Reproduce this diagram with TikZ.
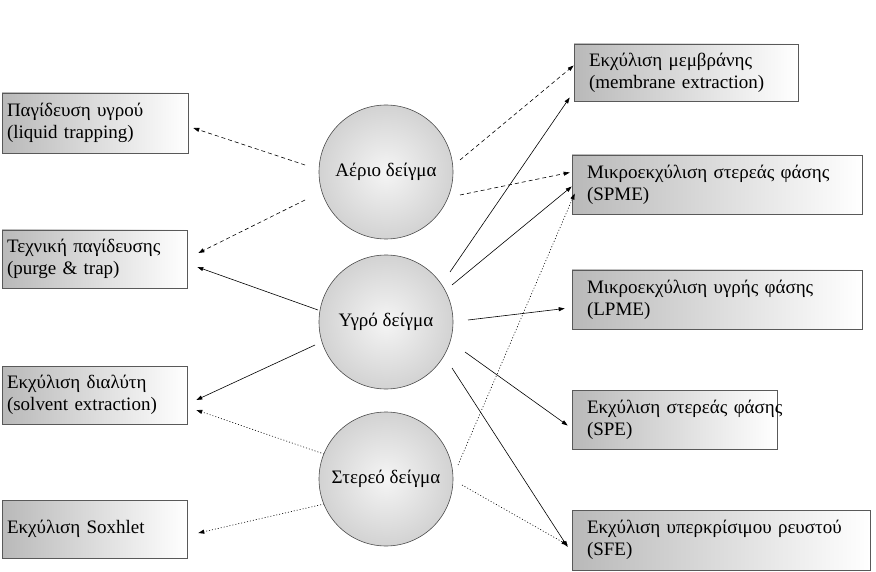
\documentclass[tikz,border=0pt]{standalone}
\usepackage{fontspec}
\setmainfont{Liberation Serif}
\usetikzlibrary{calc,arrows.meta}
\newcommand{\lnA}[1]{\mbox{\hspace*{5pt}#1}}
\newcommand{\lnB}[1]{\mbox{\hspace*{15pt}#1}}
\begin{document}
\begin{tikzpicture}[x=1pt,y=-1pt,
  box/.style={draw=gray!70!black,line width=0.6pt,left color=gray!55,right color=white,align=left,anchor=center,inner xsep=0pt,text width=#1,font=\fontsize{19}{22}\selectfont},
  circ/.style={circle,draw=gray!60!black,line width=0.6pt,minimum size=134pt,inner color=gray!8,outer color=gray!35,font=\fontsize{19}{22}\selectfont},
  con/.style={line width=0.6pt,-{Triangle[length=6pt,width=4pt]}},
  dsh/.style={con,dash pattern=on 4pt off 3pt},
  dot/.style={con,dash pattern=on 1pt off 2pt}]
\useasboundingbox (0,0) rectangle (876,572);
\node[box=186pt,minimum height=60pt] (L1) at (95,123) {\lnA{Παγίδευση υγρού}\\\lnA{(liquid trapping)}};
\node[box=185pt,minimum height=58pt] (L2) at (94.5,259) {\lnA{Τεχνική παγίδευσης}\\\lnA{(purge \& trap)}};
\node[box=185pt,minimum height=58pt] (L3) at (94.5,395) {\lnA{Εκχύλιση διαλύτη}\\\lnA{(solvent extraction)}};
\node[box=185pt,minimum height=58pt] (L4) at (94.5,529) {\lnA{Εκχύλιση Soxhlet}};
\node[box=224pt,minimum height=57pt] (R1) at (686,72.5) {\lnB{Εκχύλιση μεμβράνης}\\\lnB{(membrane extraction)}};
\node[box=290pt,minimum height=59pt] (R2) at (717,184.5) {\lnB{Μικροεκχύλιση στερεάς φάσης}\\\lnB{(SPME)}};
\node[box=290pt,minimum height=59pt] (R3) at (717,299.5) {\lnB{Μικροεκχύλιση υγρής φάσης}\\\lnB{(LPME)}};
\node[box=205pt,minimum height=59pt] (R4) at (674.5,419.5) {\lnB{Εκχύλιση στερεάς φάσης}\\\lnB{(SPE)}};
\node[box=298pt,minimum height=60pt] (R5) at (721,540) {\lnB{Εκχύλιση υπερκρίσιμου ρευστού}\\\lnB{(SFE)}};
\coordinate (A) at (386,172);
\coordinate (Y) at (386,322);
\coordinate (S) at (386,479);
\draw[dsh] ($(A)+(-81,-7)$) -- ($(L1.east)+(5,5)$);
\draw[dsh] ($(A)+(-81,28)$) -- ($(L2.east)+(11,-6)$);
\draw[dsh] ($(A)+(74,-12)$) -- ($(R1.west)+(0,-7)$);
\draw[dsh] ($(A)+(74,23)$) -- ($(R2.west)+(-2,-12)$);
\draw[con] ($(Y)+(-68,-12)$) -- ($(L2.east)+(10,8)$);
\draw[con] ($(Y)+(-71,23)$) -- ($(L3.east)+(9,5)$);
\draw[con] ($(Y)+(64,-50)$) -- ($(R1.west)+(-4,25)$);
\draw[con] ($(Y)+(66,-37)$) -- ($(R2.west)+(0,2)$);
\draw[con] ($(Y)+(82,-2)$) -- ($(R3.west)+(-7,9)$);
\draw[con] ($(Y)+(79,30)$) -- ($(R4.west)+(-4,6)$);
\draw[con] ($(Y)+(66,46)$) -- ($(R5.west)+(-4,7)$);
\draw[dot] ($(S)+(-62,-25)$) -- ($(L3.east)+(9,15)$);
\draw[dot] ($(S)+(-62,25)$) -- ($(L4.east)+(11,4)$);
\draw[dot] ($(S)+(72,-14)$) -- ($(R2.west)+(3,9)$);
\draw[dot] ($(S)+(76,6)$) -- ($(R5.west)+(-4,5)$);
\node[circ] (Ac) at (A) {Αέριο δείγμα};
\node[circ] (Yc) at (Y) {Υγρό δείγμα};
\node[circ] (Sc) at (S) {Στερεό δείγμα};
\end{tikzpicture}
\end{document}
